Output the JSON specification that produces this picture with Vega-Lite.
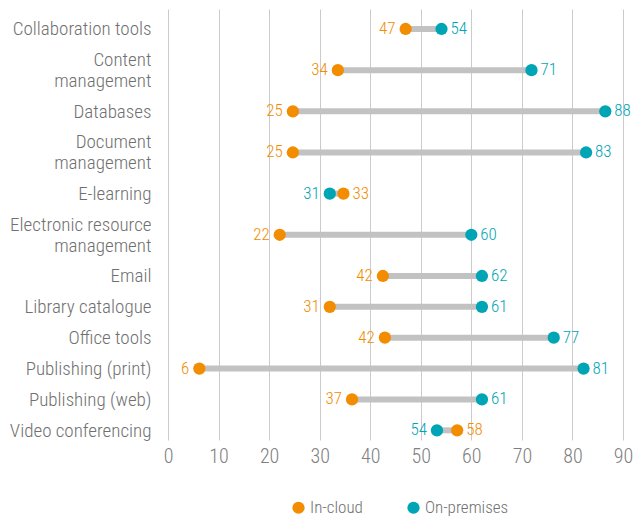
{
  "$schema": "https://vega.github.io/schema/vega-lite/v6.json",
  "width": 455,
  "height": 431,
  "autosize": {"type": "none"},
  "padding": {"left": 168, "top": 9, "right": 12, "bottom": 78},
  "background": "white",
  "config": {
    "font": "Roboto Condensed, Roboto",
    "view": {"stroke": null}
  },
  "data": {
    "values": [
      {"cat": "Collaboration tools", "series": "In-cloud", "share": 47, "label": "47"},
      {"cat": "Collaboration tools", "series": "On-premises", "share": 54.1, "label": "54"},
      {"cat": "Content management", "series": "In-cloud", "share": 33.6, "label": "34"},
      {"cat": "Content management", "series": "On-premises", "share": 71.9, "label": "71"},
      {"cat": "Databases", "series": "In-cloud", "share": 24.7, "label": "25"},
      {"cat": "Databases", "series": "On-premises", "share": 86.5, "label": "88"},
      {"cat": "Document management", "series": "In-cloud", "share": 24.7, "label": "25"},
      {"cat": "Document management", "series": "On-premises", "share": 82.7, "label": "83"},
      {"cat": "E-learning", "series": "In-cloud", "share": 34.7, "label": "33"},
      {"cat": "E-learning", "series": "On-premises", "share": 32, "label": "31"},
      {"cat": "Electronic resource management", "series": "In-cloud", "share": 22.1, "label": "22"},
      {"cat": "Electronic resource management", "series": "On-premises", "share": 60, "label": "60"},
      {"cat": "Email", "series": "In-cloud", "share": 42.5, "label": "42"},
      {"cat": "Email", "series": "On-premises", "share": 62.1, "label": "62"},
      {"cat": "Library catalogue", "series": "In-cloud", "share": 32, "label": "31"},
      {"cat": "Library catalogue", "series": "On-premises", "share": 62.1, "label": "61"},
      {"cat": "Office tools", "series": "In-cloud", "share": 42.9, "label": "42"},
      {"cat": "Office tools", "series": "On-premises", "share": 76.3, "label": "77"},
      {"cat": "Publishing (print)", "series": "In-cloud", "share": 6.2, "label": "6"},
      {"cat": "Publishing (print)", "series": "On-premises", "share": 82.2, "label": "81"},
      {"cat": "Publishing (web)", "series": "In-cloud", "share": 36.4, "label": "37"},
      {"cat": "Publishing (web)", "series": "On-premises", "share": 62.1, "label": "61"},
      {"cat": "Video conferencing", "series": "In-cloud", "share": 57.2, "label": "58"},
      {"cat": "Video conferencing", "series": "On-premises", "share": 53.2, "label": "54"}
    ]
  },
  "transform": [
    {"joinaggregate": [{"op": "min", "field": "share", "as": "lo"}], "groupby": ["cat"]}
  ],
  "encoding": {
    "y": {
      "field": "cat",
      "type": "nominal",
      "scale": {
        "type": "point",
        "padding": 0.94,
        "domain": ["~0", "Collaboration tools", "~2", "~3", "~4", "Content management", "~6", "~7", "~8", "Databases", "~10", "~11", "~12", "Document management", "~14", "~15", "~16", "E-learning", "~18", "~19", "~20", "Electronic resource management", "~22", "~23", "~24", "Email", "~26", "~27", "Library catalogue", "~29", "~30", "Office tools", "~32", "~33", "Publishing (print)", "~35", "~36", "Publishing (web)", "~38", "~39", "Video conferencing"]
      },
      "axis": {
        "title": null,
        "ticks": false,
        "domain": false,
        "grid": false,
        "labelPadding": 17,
        "labelFontSize": 19,
        "labelFontWeight": 300,
        "labelColor": "#707070",
        "labelLimit": 0,
        "labelOverlap": false,
        "labelLineHeight": 21,
        "labelOffset": {"condition": {"test": "indexof(datum.value, 'management') > 0", "value": -10.5}, "value": 0},
        "labelExpr": "datum.value == 'Content management' ? ['Content', 'management'] : datum.value == 'Document management' ? ['Document', 'management'] : datum.value == 'Electronic resource management' ? ['Electronic resource', 'management'] : (indexof(datum.value, '~') == 0 ? '' : datum.value)"
      }
    }
  },
  "layer": [
    {
      "mark": {"type": "rule", "strokeWidth": 6, "color": "#c2c2c2"},
      "encoding": {
        "x": {
          "aggregate": "min",
          "field": "share",
          "type": "quantitative",
          "scale": {"domain": [0, 90], "nice": false, "zero": true},
          "axis": {
            "title": null,
            "values": [0, 10, 20, 30, 40, 50, 60, 70, 80, 90],
            "grid": true,
            "gridColor": "#cbcbcb",
            "gridWidth": 1,
            "domain": false,
            "ticks": false,
            "labelFlush": false,
            "labelFontSize": 20,
            "labelFontWeight": 300,
            "labelColor": "#808080",
            "labelPadding": 6
          }
        },
        "x2": {"aggregate": "max", "field": "share"}
      }
    },
    {
      "mark": {"type": "point", "filled": true, "size": 150, "opacity": 1, "shape": "circle"},
      "encoding": {
        "x": {"field": "share", "type": "quantitative"},
        "color": {
          "field": "series",
          "type": "nominal",
          "scale": {"domain": ["In-cloud", "On-premises"], "range": ["#F28C00", "#00A5B5"]},
          "legend": {
            "title": null,
            "orient": "none",
            "legendX": 122,
            "legendY": 490,
            "direction": "horizontal",
            "symbolType": "circle",
            "symbolSize": 150,
            "labelFontSize": 17,
            "labelFontWeight": 300,
            "labelColor": "#707070",
            "labelOffset": 3,
            "columnPadding": 42,
            "padding": 0
          }
        }
      }
    },
    {
      "transform": [{"filter": "datum.share == datum.lo"}],
      "mark": {"type": "text", "align": "right", "dx": -10, "fontSize": 17, "fontWeight": 300},
      "encoding": {
        "x": {"field": "share", "type": "quantitative"},
        "text": {"field": "label"},
        "color": {"field": "series", "type": "nominal"}
      }
    },
    {
      "transform": [{"filter": "datum.share != datum.lo"}],
      "mark": {"type": "text", "align": "left", "dx": 9, "fontSize": 17, "fontWeight": 300},
      "encoding": {
        "x": {"field": "share", "type": "quantitative"},
        "text": {"field": "label"},
        "color": {"field": "series", "type": "nominal"}
      }
    }
  ]
}
